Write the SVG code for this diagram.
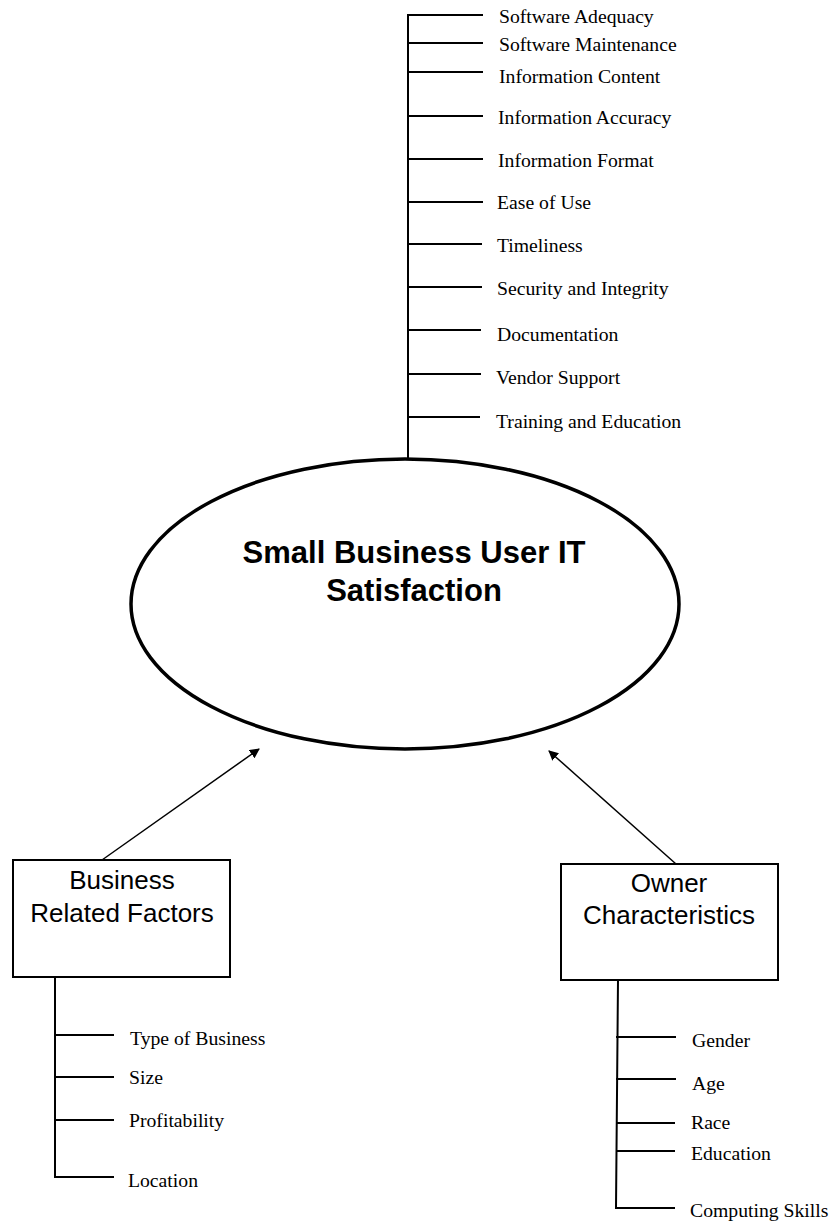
<svg xmlns="http://www.w3.org/2000/svg" width="833" height="1223" viewBox="0 0 833 1223">
<style>
.bg{fill:#fff}
.ln{stroke:#000;stroke-width:2;fill:none;stroke-linecap:square}
.lbl{font-family:"Liberation Serif","Times New Roman",serif;font-size:19.7px;fill:#000}
.box{fill:#fff;stroke:#000;stroke-width:2}
.boxt{font-family:"Liberation Sans",Arial,sans-serif;font-size:26px;fill:#000;text-anchor:middle}
.ell{fill:#fff;stroke:#000;stroke-width:3.5}
.title{font-family:"Liberation Sans",Arial,sans-serif;font-size:31px;font-weight:bold;fill:#000;text-anchor:middle}
.arr{stroke:#000;stroke-width:1.5;fill:none}
</style>
<defs>
<marker id="ah" viewBox="0 0 10 10" refX="9" refY="5" markerWidth="10" markerHeight="10" markerUnits="userSpaceOnUse" orient="auto">
<path d="M0,0 L10,5 L0,10 Z" fill="#000"/>
</marker>
</defs>
<rect class="bg" x="0" y="0" width="833" height="1223"/>

<g id="connectors">
<path class="ln" d="M408,15 V459"/>
<path class="ln" d="M408,15 H482 M408,43 H482 M408,72 H482 M408,116 H482 M408,159 H482 M408,202 H482 M408,244 H481 M408,287 H481 M408,330 H480 M408,374 H480 M408,417 H479"/>
<path class="ln" d="M55,977 V1177 H113 M55,1035 H113 M55,1077 H113 M55,1120 H113"/>
<path class="ln" d="M618,980 L616,1208 H674 M617,1037 H675 M617,1079 H675 M617,1123 H674 M617,1151 H674"/>
<line class="arr" x1="102" y1="860" x2="259" y2="749" marker-end="url(#ah)"/>
<line class="arr" x1="676" y1="864" x2="549" y2="751" marker-end="url(#ah)"/>
</g>

<g id="satisfaction">
<ellipse class="ell" cx="405" cy="604" rx="274" ry="145"/>
<text class="title" x="414" y="563">Small Business User IT</text>
<text class="title" x="414" y="601">Satisfaction</text>
</g>

<g id="business">
<rect class="box" x="13" y="860" width="217" height="117"/>
<text class="boxt" x="122" y="889">Business</text>
<text class="boxt" x="122" y="922">Related Factors</text>
</g>

<g id="owner">
<rect class="box" x="561" y="864" width="217" height="116"/>
<text class="boxt" x="669" y="892">Owner</text>
<text class="boxt" x="669" y="924">Characteristics</text>
</g>

<g id="it-factors">
<text class="lbl" x="499" y="23">Software Adequacy</text>
<text class="lbl" x="499" y="51">Software Maintenance</text>
<text class="lbl" x="499" y="83">Information Content</text>
<text class="lbl" x="498" y="124">Information Accuracy</text>
<text class="lbl" x="498" y="167">Information Format</text>
<text class="lbl" x="497" y="209">Ease of Use</text>
<text class="lbl" x="497" y="252">Timeliness</text>
<text class="lbl" x="497" y="295">Security and Integrity</text>
<text class="lbl" x="497" y="341">Documentation</text>
<text class="lbl" x="496" y="384">Vendor Support</text>
<text class="lbl" x="496" y="428">Training and Education</text>
</g>

<g id="business-factors">
<text class="lbl" x="130" y="1045">Type of Business</text>
<text class="lbl" x="129" y="1084">Size</text>
<text class="lbl" x="129" y="1127">Profitability</text>
<text class="lbl" x="128" y="1187">Location</text>
</g>

<g id="owner-factors">
<text class="lbl" x="692" y="1047">Gender</text>
<text class="lbl" x="692" y="1090">Age</text>
<text class="lbl" x="691" y="1129">Race</text>
<text class="lbl" x="691" y="1160">Education</text>
<text class="lbl" x="690" y="1217">Computing Skills</text>
</g>
</svg>
